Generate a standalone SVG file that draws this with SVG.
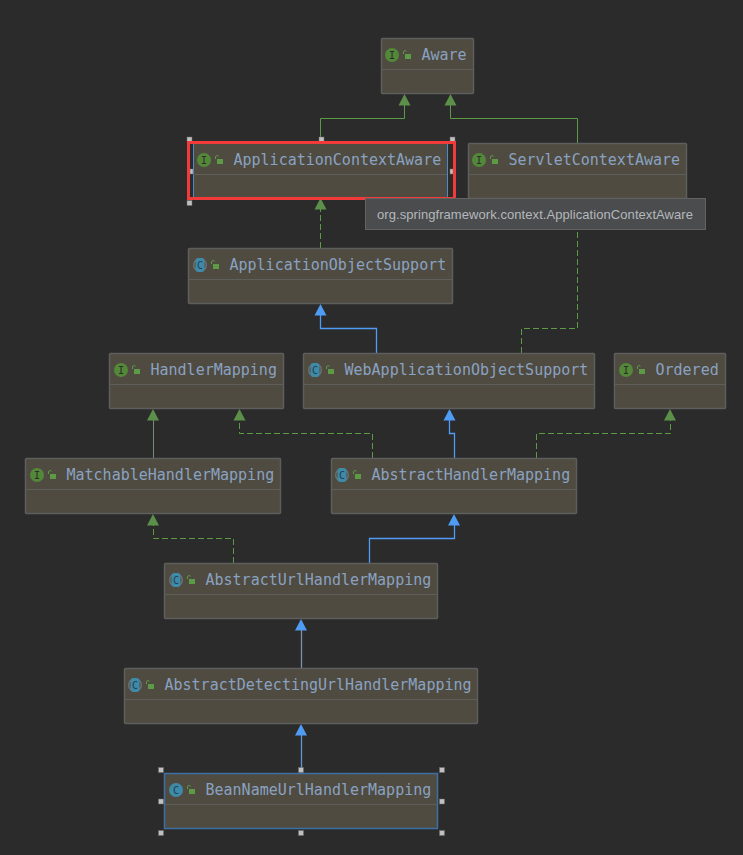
<svg xmlns="http://www.w3.org/2000/svg" xmlns:xlink="http://www.w3.org/1999/xlink" width="743" height="855" viewBox="0 0 743 855">
<style>
.box{fill:#4f4b40;stroke:#5e5e5e;stroke-width:1.5}
.div{stroke:#5e5e5a;stroke-width:1;fill:none}
.name{font-family:"DejaVu Sans Mono",monospace;font-size:15px;fill:#8aa2c2}
.ii{font-family:"DejaVu Sans Mono",monospace;font-size:10px;font-weight:normal;text-anchor:middle}
.g{fill:none;stroke:#5d9a45;stroke-width:1}
.b{fill:none;stroke:#4f9cf5;stroke-width:1.300}
.gd{fill:none;stroke:#5d9a45;stroke-width:1;stroke-dasharray:6 3}
.tg{fill:#5c8f4a}
.tb{fill:#4f9cf5}
.h{fill:#c0c0c0;stroke:#6a6a6a;stroke-width:.5}
</style>
<defs>
<g id="lock"><rect x="-2" y="-2" width="6" height="5" fill="#5c9a45"/><path d="M-3.500 -2V-4a1.700 1.700 0 0 1 3.200 -.5" fill="none" stroke="#5c9a45" stroke-width="1"/></g>
<g id="icoI"><circle r="7" fill="#528838"/></g>
<g id="icoC"><circle r="7" fill="#6a7478"/><circle r="5.600" fill="#4f4b40"/><rect x="-4.500" y="-7" width="9" height="14" rx="3" fill="#3f8aa8"/></g>
<g id="icoB"><circle r="7" fill="#3f8aa8"/></g>
<polygon id="tri" points="0,0 -6,11.500 6,11.500"/>
</defs>
<rect width="743" height="855" fill="#2b2b2b"/>

<g id="connectors">
<path class="g" d="M320.500 143V118.500H404.500V105"/><use xlink:href="#tri" class="tg" x="404.500" y="94"/>
<path class="g" d="M577.500 143V118.500H450.500V105"/><use xlink:href="#tri" class="tg" x="450.500" y="94"/>
<path class="gd" d="M320.500 248V209"/><use xlink:href="#tri" class="tg" x="320.500" y="198"/>
<path class="b" d="M376.500 353V328.500H320.500V315"/><use xlink:href="#tri" class="tb" x="320.500" y="304"/>
<path class="gd" d="M521.500 353V328.500H577.500V229"/>
<path class="g" d="M153.500 458V420" style="stroke:#7a8a78"/><use xlink:href="#tri" class="tg" x="153" y="409"/>
<path class="gd" d="M372.500 458V433.500H239.500V420"/><use xlink:href="#tri" class="tg" x="239.500" y="409"/>
<path class="b" d="M454.500 458V433.500H449.500V420"/><use xlink:href="#tri" class="tb" x="449.500" y="409"/>
<path class="gd" d="M536.500 458V433.500H670.500V420"/><use xlink:href="#tri" class="tg" x="670" y="409"/>
<path class="gd" d="M233.500 563V538.500H153.500V525"/><use xlink:href="#tri" class="tg" x="153" y="514"/>
<path class="b" d="M369.500 563V538.500H454.500V525"/><use xlink:href="#tri" class="tb" x="454" y="514"/>
<path class="b" d="M301.500 668V630" style="stroke:#7d92a8"/><use xlink:href="#tri" class="tb" x="301" y="619"/>
<path class="b" d="M301.500 773V735" style="stroke:#5f97d6"/><use xlink:href="#tri" class="tb" x="301" y="724"/>
</g>

<g id="node-aware">
<rect class="box" x="381.500" y="38.500" width="92" height="55" rx="1"/><path class="div" d="M381 69.500H473"/>
<use xlink:href="#icoI" x="392" y="55"/><text class="ii" x="392" y="58.500" fill="#2b2b2b">I</text><use xlink:href="#lock" x="407" y="56"/>
<text class="name" x="421.500" y="59.500">Aware</text>
</g>

<g id="node-servlet-context-aware">
<rect class="box" x="468.500" y="143.500" width="218" height="55" rx="1"/><path class="div" d="M468 174.500H686"/>
<use xlink:href="#icoI" x="479" y="160"/><text class="ii" x="479" y="163.500" fill="#2b2b2b">I</text><use xlink:href="#lock" x="494" y="161"/>
<text class="name" x="508.500" y="164.500">ServletContextAware</text>
</g>

<g id="node-application-context-aware">
<rect x="193.500" y="143.500" width="254" height="55" fill="#4f4b40" stroke="#4f87c7" stroke-width="1"/><path class="div" d="M193 174.500H447"/>
<use xlink:href="#icoI" x="204" y="160"/><text class="ii" x="204" y="163.500" fill="#2b2b2b">I</text><use xlink:href="#lock" x="219" y="161"/>
<text class="name" x="233.500" y="164.500">ApplicationContextAware</text>
<rect class="h" x="187" y="137" width="5" height="5"/><rect class="h" x="319" y="137" width="5" height="5"/><rect class="h" x="450" y="137" width="5" height="5"/>
<rect class="h" x="190" y="169" width="3" height="5"/><rect class="h" x="450" y="169" width="3" height="5"/>
<rect class="h" x="187" y="200.500" width="5" height="5"/>
<rect x="188.500" y="142.500" width="266" height="56" fill="none" stroke="#f23a3a" stroke-width="3"/>
</g>

<g id="tooltip">
<rect x="365.500" y="198.500" width="340" height="31" fill="#4a4c4e" stroke="#626262" stroke-width="1"/>
<text x="377" y="218.500" font-family="'Liberation Sans',Arial,sans-serif" font-size="13px" textLength="316" fill="#b4b8bb">org.springframework.context.ApplicationContextAware</text>
</g>

<g id="node-application-object-support">
<rect class="box" x="188.500" y="248.500" width="264" height="55" rx="1"/><path class="div" d="M188 279.500H452"/>
<use xlink:href="#icoC" x="200" y="265"/><text class="ii" x="200" y="268.500" fill="#1f3f4d">C</text><use xlink:href="#lock" x="215" y="266"/>
<text class="name" x="229.500" y="269.500">ApplicationObjectSupport</text>
</g>

<g id="node-handler-mapping">
<rect class="box" x="109.500" y="353.500" width="174" height="55" rx="1"/><path class="div" d="M109 384.500H283"/>
<use xlink:href="#icoI" x="121" y="370"/><text class="ii" x="121" y="373.500" fill="#2b2b2b">I</text><use xlink:href="#lock" x="136" y="371"/>
<text class="name" x="150.500" y="374.500">HandlerMapping</text>
</g>

<g id="node-web-application-object-support">
<rect class="box" x="303.500" y="353.500" width="291" height="55" rx="1"/><path class="div" d="M303 384.500H594"/>
<use xlink:href="#icoC" x="315" y="370"/><text class="ii" x="315" y="373.500" fill="#1f3f4d">C</text><use xlink:href="#lock" x="330" y="371"/>
<text class="name" x="344.500" y="374.500">WebApplicationObjectSupport</text>
</g>

<g id="node-ordered">
<rect class="box" x="614.500" y="353.500" width="111" height="55" rx="1"/><path class="div" d="M614 384.500H725"/>
<use xlink:href="#icoI" x="626" y="370"/><text class="ii" x="626" y="373.500" fill="#2b2b2b">I</text><use xlink:href="#lock" x="641" y="371"/>
<text class="name" x="655.500" y="374.500">Ordered</text>
</g>

<g id="node-matchable-handler-mapping">
<rect class="box" x="25.500" y="458.500" width="255" height="55" rx="1"/><path class="div" d="M25 489.500H280"/>
<use xlink:href="#icoI" x="37" y="475"/><text class="ii" x="37" y="478.500" fill="#2b2b2b">I</text><use xlink:href="#lock" x="52" y="476"/>
<text class="name" x="66.500" y="479.500">MatchableHandlerMapping</text>
</g>

<g id="node-abstract-handler-mapping">
<rect class="box" x="331.500" y="458.500" width="245" height="55" rx="1"/><path class="div" d="M331 489.500H576"/>
<use xlink:href="#icoC" x="342" y="475"/><text class="ii" x="342" y="478.500" fill="#1f3f4d">C</text><use xlink:href="#lock" x="357" y="476"/>
<text class="name" x="371.500" y="479.500">AbstractHandlerMapping</text>
</g>

<g id="node-abstract-url-handler-mapping">
<rect class="box" x="164.500" y="563.500" width="273" height="55" rx="1"/><path class="div" d="M164 594.500H437"/>
<use xlink:href="#icoC" x="176" y="580"/><text class="ii" x="176" y="583.500" fill="#1f3f4d">C</text><use xlink:href="#lock" x="191" y="581"/>
<text class="name" x="205.500" y="584.500">AbstractUrlHandlerMapping</text>
</g>

<g id="node-abstract-detecting-url-handler-mapping">
<rect class="box" x="124.500" y="668.500" width="353" height="55" rx="1"/><path class="div" d="M124 699.500H477"/>
<use xlink:href="#icoC" x="135" y="685"/><text class="ii" x="135" y="688.500" fill="#1f3f4d">C</text><use xlink:href="#lock" x="150" y="686"/>
<text class="name" x="164.500" y="689.500">AbstractDetectingUrlHandlerMapping</text>
</g>

<g id="node-bean-name-url-handler-mapping">
<rect x="164.500" y="773.500" width="273" height="55" fill="#4f4b40" stroke="#3d6fa5" stroke-width="1.500"/><path class="div" d="M165 804.500H437"/>
<use xlink:href="#icoB" x="176" y="790"/><text class="ii" x="176" y="793.500" fill="#1f3f4d">C</text><use xlink:href="#lock" x="191" y="791"/>
<text class="name" x="205.500" y="794.500">BeanNameUrlHandlerMapping</text>
<rect class="h" x="158.500" y="767.500" width="5" height="5"/><rect class="h" x="298.500" y="767.500" width="5" height="5"/><rect class="h" x="439.500" y="767.500" width="5" height="5"/>
<rect class="h" x="158.500" y="799" width="5" height="5"/><rect class="h" x="439.500" y="799" width="5" height="5"/>
<rect class="h" x="158.500" y="830.500" width="5" height="5"/><rect class="h" x="298.500" y="830.500" width="5" height="5"/><rect class="h" x="439.500" y="830.500" width="5" height="5"/>
</g>
</svg>
